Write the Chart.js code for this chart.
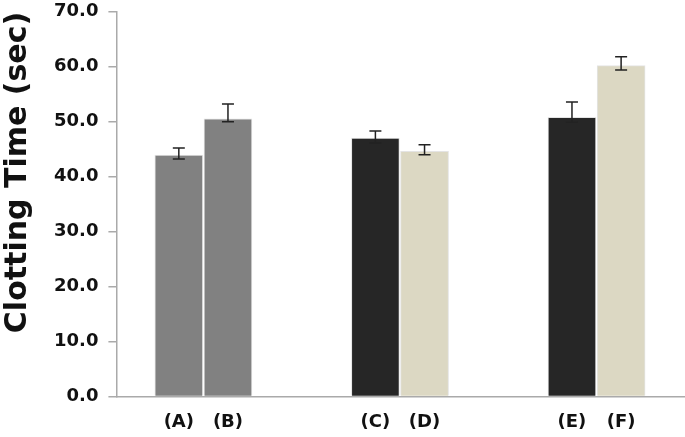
<!DOCTYPE html>
<html>
<head>
<meta charset="utf-8">
<script src="https://cdn.jsdelivr.net/npm/chart.js@4/dist/chart.umd.min.js"></script>
<style>
  html, body { margin: 0; background: #fff; overflow: hidden; }
  #wrap { width: 685px; height: 461px; margin-top: -9px; }
</style>
</head>
<body>
<div id="wrap"><canvas id="myChart"></canvas></div>
<script>
// groups sit at these slots on the x axis (gaps between pairs)
var labels    = ['(A)', '(B)', '(C)', '(D)', '(E)', '(F)'];
var positions = [1, 2, 5, 6, 9, 10];
var values    = [43.9, 50.5, 47.0, 44.6, 50.8, 60.2];
var errHigh   = [45.2, 53.2, 48.3, 45.8, 53.6, 61.8];
var errLow    = [43.2, 50.0, 46.1, 44.0, 49.9, 59.4];
var colors    = ['#818181', '#818181', '#262626', '#dcd8c3', '#262626', '#dcd8c3'];

var points = positions.map(function(p, i){ return {x: p, y: values[i]}; });

var errorBars = {
    id: 'errorBars',
    afterDatasetsDraw: function(chart){
        var ctx = chart.ctx;
        var xs = chart.scales.x, ys = chart.scales.y;
        ctx.save();
        ctx.strokeStyle = '#222';
        ctx.lineWidth = 1.5;
        positions.forEach(function(p, i){
            var x = xs.getPixelForValue(p);
            var top = ys.getPixelForValue(errHigh[i]);
            var bot = ys.getPixelForValue(errLow[i]);
            ctx.beginPath();
            ctx.moveTo(x, top); ctx.lineTo(x, bot);
            ctx.moveTo(x - 6, top); ctx.lineTo(x + 6, top);
            ctx.moveTo(x - 6, bot); ctx.lineTo(x + 6, bot);
            ctx.stroke();
        });
        ctx.restore();
    }
};

var tickFont = {family: 'DejaVu Sans', size: 18, weight: 'bold'};

var config = {
    type: 'bar',
    data: {
        datasets: [{
            data: points,
            backgroundColor: colors,
            borderColor: '#e4e4e4',
            borderWidth: 1,
            barThickness: 48
        }]
    },
    options: {
        responsive: true,
        maintainAspectRatio: false,
        animation: false,
        layout: { padding: {top: 0, right: 0, bottom: 4, left: 0} },
        plugins: { legend: {display: false}, tooltip: {enabled: false} },
        scales: {
            x: {
                type: 'linear',
                offset: false,
                min: -0.27,
                max: 11.3,
                afterBuildTicks: function(scale){
                    scale.ticks = positions.map(function(p){ return {value: p}; });
                },
                ticks: {
                    color: '#111',
                    font: tickFont,
                    padding: 15,
                    autoSkip: false,
                    maxRotation: 0,
                    callback: function(v){ return labels[positions.indexOf(v)]; }
                },
                grid: { display: false, drawTicks: false, offset: false },
                border: { color: '#aaa', width: 1.5 }
            },
            y: {
                min: 0,
                max: 70,
                ticks: {
                    stepSize: 10,
                    color: '#111',
                    font: tickFont,
                    padding: 10,
                    callback: function(v){ return v.toFixed(1); }
                },
                grid: { drawOnChartArea: false, drawTicks: true, tickLength: 8, color: '#aaa', lineWidth: 1.5 },
                border: { color: '#aaa', width: 1.5 },
                title: {
                    display: true,
                    text: 'Clotting Time (sec)',
                    align: 'end',
                    color: '#111',
                    font: {family: 'DejaVu Sans', size: 30, weight: 'bold'},
                    padding: {top: 0, bottom: 8}
                }
            }
        }
    },
    plugins: [errorBars]
};

var myChart = new Chart(document.getElementById('myChart'), config);
</script>
</body>
</html>
